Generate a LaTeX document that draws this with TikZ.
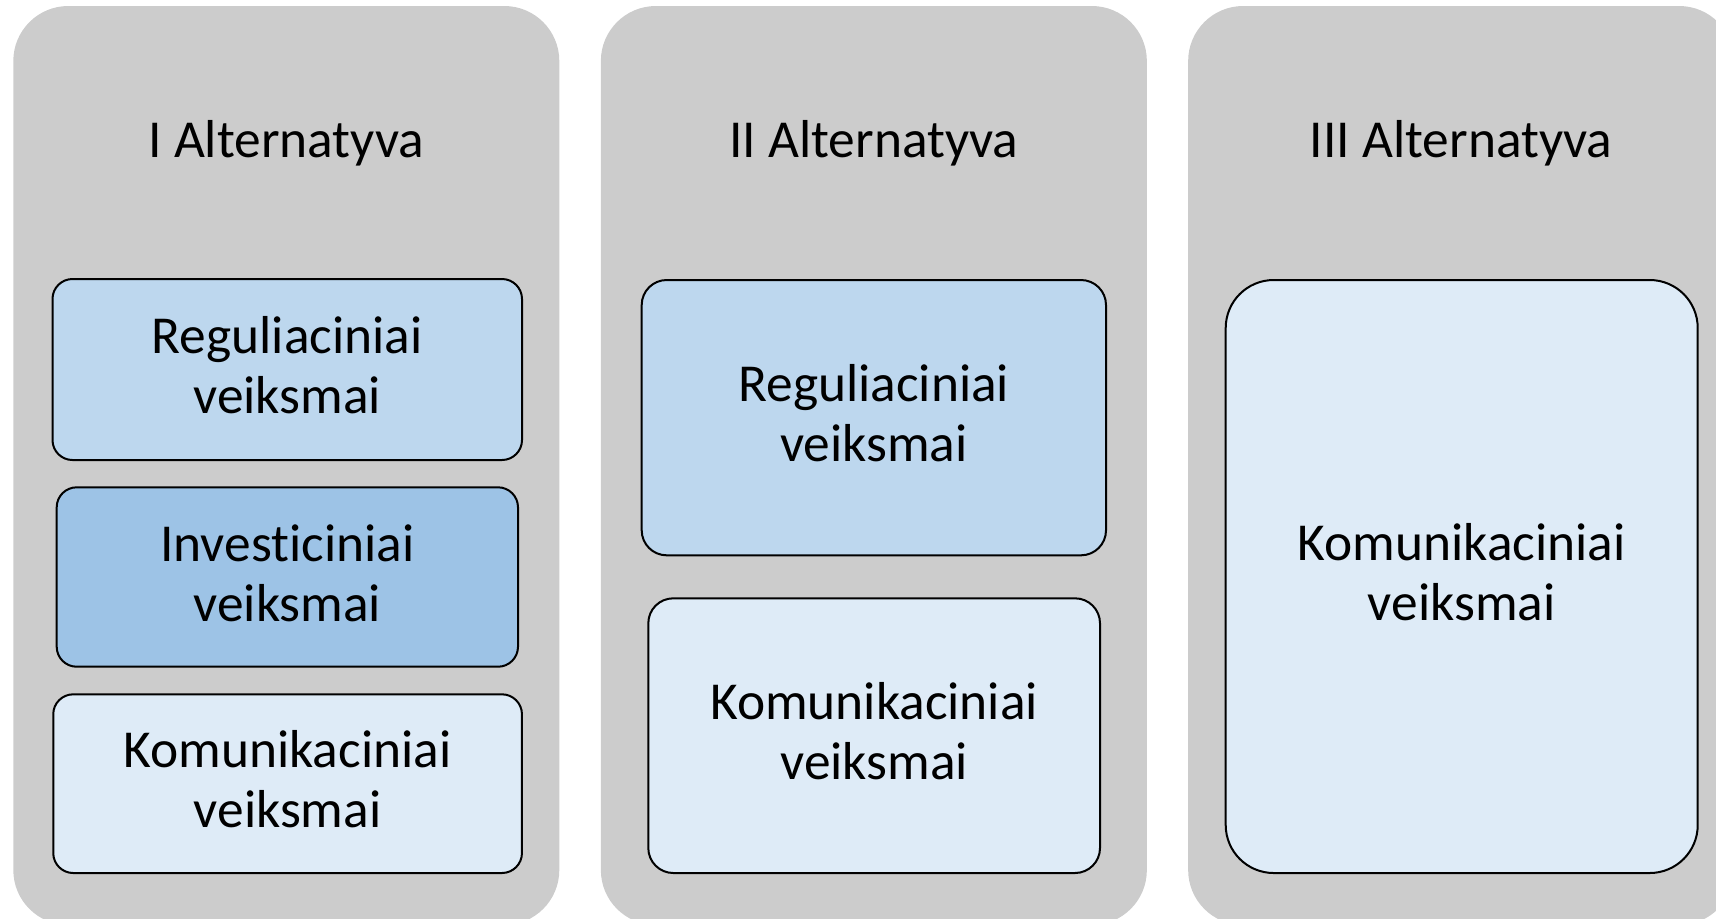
\documentclass[tikz,border=0pt]{standalone}
\usepackage{fontspec}
\setmainfont{Carlito}[Ligatures=NoCommon]
\definecolor{panelgray}{RGB}{204,204,204}
\definecolor{blueA}{HTML}{BDD7EE}
\definecolor{blueB}{HTML}{9DC3E6}
\definecolor{blueC}{HTML}{DEEBF7}
\newcommand{\twolines}[2]{\rule{0pt}{20pt}#1\\#2\rule[-6pt]{0pt}{6pt}}
\tikzset{
 panel/.style={fill=panelgray, draw=none, rounded corners=27.5pt, minimum width=273pt, minimum height=459.5pt, inner sep=0pt},
 title/.style={anchor=base, font=\fontsize{26.7pt}{30pt}\selectfont, inner sep=0pt},
 actbox/.style={draw=black, line width=1pt, inner sep=0pt, align=center, font=\fontsize{26.7pt}{30pt}\selectfont},
}
\begin{document}
\begin{tikzpicture}[x=0.5pt,y=-0.5pt]
\useasboundingbox (0,0) rectangle (1716,918);
\node[panel] (p1) at (286.3,465.5) {};
\node[panel] (p2) at (873.85,465.5) {};
\node[panel] (p3) at (1461.15,465.5) {};
\node[title] (t1) at (286.3,157) {I Alternatyva};
\node[title] (t2) at (873.85,157) {II Alternatyva};
\node[title] (t3) at (1461.15,157) {III Alternatyva};
\node[actbox, fill=blueA, rounded corners=10pt, minimum width=234.75pt, minimum height=90.5pt] (r1) at (287.25,369.5) {\twolines{Reguliaciniai}{veiksmai}};
\node[actbox, fill=blueB, rounded corners=10pt, minimum width=230.65pt, minimum height=89.7pt] (i1) at (287.35,577) {\twolines{Investiciniai}{veiksmai}};
\node[actbox, fill=blueC, rounded corners=10pt, minimum width=234.35pt, minimum height=89.35pt] (k1) at (287.6,783.65) {\twolines{Komunikaciniai}{veiksmai}};
\node[actbox, fill=blueA, rounded corners=12.5pt, minimum width=232.15pt, minimum height=137.65pt] (r2) at (873.85,417.65) {\twolines{Reguliaciniai}{veiksmai}};
\node[actbox, fill=blueC, rounded corners=12.5pt, minimum width=225.85pt, minimum height=137.35pt] (k2) at (874.15,735.65) {\twolines{Komunikaciniai}{veiksmai}};
\node[actbox, fill=blueC, rounded corners=24pt, minimum width=236pt, minimum height=296.5pt] (k3) at (1461.7,576.5) {\twolines{Komunikaciniai}{veiksmai}};
\end{tikzpicture}
\end{document}
